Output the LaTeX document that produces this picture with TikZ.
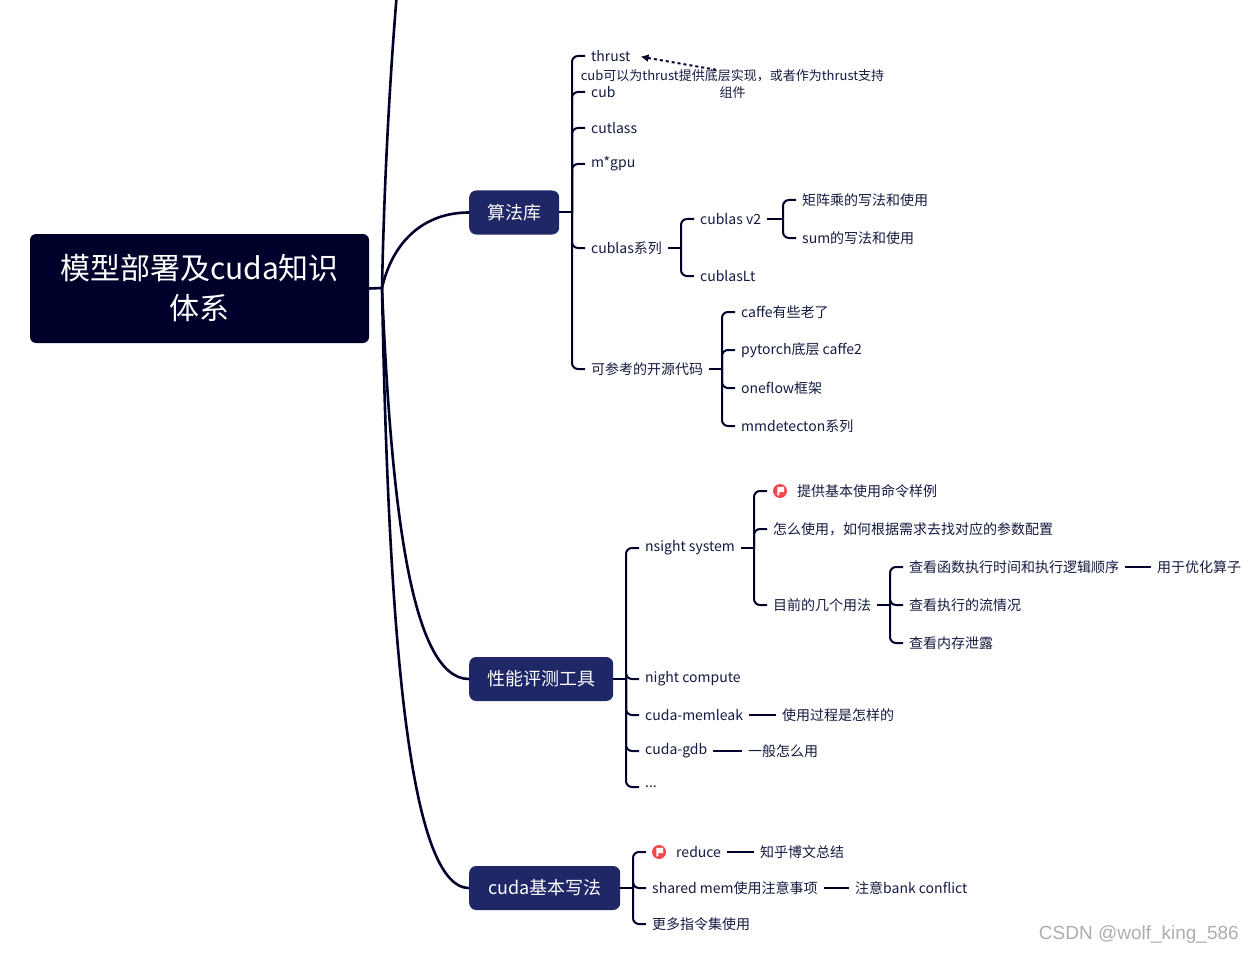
\documentclass[tikz,border=0pt]{standalone}
\usepackage{fontspec}
\setmainfont{Noto Sans CJK SC}
\newfontfamily\wmfont{Liberation Sans}
\usetikzlibrary{arrows.meta}
\definecolor{ink}{HTML}{00012A}
\definecolor{branchfill}{HTML}{1F2766}
\definecolor{flagred}{HTML}{F4484F}
\definecolor{leaftext}{HTML}{141A40}
\tikzset{
  rootbox/.style={draw=none,fill=ink,rounded corners=6pt,text=white,align=center,font=\fontsize{30}{40}\selectfont,minimum width=339pt,minimum height=109pt,text width=300pt,inner sep=0pt},
  branchbox/.style={fill=branchfill,rounded corners=7pt,text=white,anchor=west,font=\fontsize{18}{22}\selectfont,minimum height=44pt,inner sep=0pt},
  leaf/.style={anchor=west,inner xsep=6pt,inner ysep=0pt,text=leaftext,font=\fontsize{14}{17}\selectfont},
  mainline/.style={draw=ink,line width=2.6pt},
  conn/.style={draw=ink,line width=2pt,rounded corners=6pt},
  flagdisc/.style={circle,fill=flagred,minimum size=14pt,inner sep=0pt},
}
\newcommand{\kid}[3]{\draw[conn] (#1.east -| #2) -- (#3.west -| #2) -- (#3.west);}
\newcommand{\stub}[2]{\draw[conn] (#1.east) -- (#1.east -| #2);}
\newcommand{\flagmark}[1]{\fill[white] ([shift={(-2.6,4.4)}]#1.center) -- ++(0,-8.6) -- ++(6.6,0) -- ++(0,5.4) -- ++(-4.6,0) -- ++(0,3.2) -- cycle;}
\begin{document}
\begin{tikzpicture}[x=1pt,y=-1pt]
\useasboundingbox (0,0) rectangle (1254,955);
\node[rootbox] (root) at (199.5,288.5) {模型部署及cuda知识\\体系};
\node[branchbox,minimum width=90pt] (b1) at (469,212.5) {算法库};
\node[branchbox,minimum width=144pt] (b2) at (469,679) {性能评测工具};
\node[branchbox,minimum width=151pt] (b3) at (469,888) {cuda基本写法};
\coordinate (hub) at (382,288);
\coordinate (offtop) at (396.5,-2);
\draw[mainline] (root.east) -- (hub);
\draw[mainline] (hub) .. controls (384,190) and (389,90) .. (offtop);
\draw[mainline] (hub) .. controls (393,240) and (425,212.5) .. (b1.west);
\draw[mainline] (hub) .. controls (391,500) and (410,679) .. (b2.west);
\draw[mainline] (hub) .. controls (388,600) and (405,888) .. (b3.west);
% trunks
\coordinate (t1) at (572,0);
\coordinate (t2) at (681,0);
\coordinate (t3) at (783,0);
\coordinate (t4) at (722,0);
\coordinate (t5) at (626,0);
\coordinate (t6) at (754,0);
\coordinate (t7) at (890,0);
\coordinate (t8) at (633,0);
% algorithm library
\node[leaf] (thrust) at (585,56) {thrust};
\node[leaf] (cub) at (585,92) {cub};
\node[leaf] (cutlass) at (585,128) {cutlass};
\node[leaf] (mgpu) at (585,164) {m*gpu};
\node[leaf] (cublasx) at (585,248) {cublas系列};
\node[leaf] (oss) at (585,369) {可参考的开源代码};
\node[leaf] (cv2) at (694,219) {cublas v2};
\node[leaf] (clt) at (694,276) {cublasLt};
\node[leaf] (mat) at (796,200) {矩阵乘的写法和使用};
\node[leaf] (sum) at (796,238) {sum的写法和使用};
\node[leaf] (caffe) at (735,312) {caffe有些老了};
\node[leaf] (pyt) at (735,350) {pytorch底层 caffe2};
\node[leaf] (oflow) at (735,388) {oneflow框架};
\node[leaf] (mmd) at (735,426) {mmdetecton系列};
\node[align=center,inner sep=0pt,text=leaftext,font=\fontsize{13}{17}\selectfont] (note) at (732.5,84.5) {cub可以为thrust提供底层实现，或者作为thrust支持\\组件};
\stub{b1}{t1}
\foreach \c in {thrust,cub,cutlass,mgpu,cublasx,oss}{\kid{b1}{t1}{\c}}
\stub{cublasx}{t2}
\foreach \c in {cv2,clt}{\kid{cublasx}{t2}{\c}}
\stub{cv2}{t3}
\foreach \c in {mat,sum}{\kid{cv2}{t3}{\c}}
\stub{oss}{t4}
\foreach \c in {caffe,pyt,oflow,mmd}{\kid{oss}{t4}{\c}}
\draw[draw=ink,line width=2pt,dashed,-{Latex[length=8pt,width=8pt]},shorten >=4pt] ([shift={(-16.5,0)}]note.north) -- (thrust.east);
% performance tools
\node[leaf] (nsight) at (639,548) {nsight system};
\node[leaf] (night) at (639,679) {night compute};
\node[leaf] (memleak) at (639,715) {cuda-memleak};
\node[leaf] (gdb) at (639,751) {cuda-gdb};
\node[leaf] (dots) at (639,787) {...};
\node[leaf] (usage) at (776,715) {使用过程是怎样的};
\node[leaf] (howuse) at (742,751) {一般怎么用};
\node[leaf] (basic) at (767,491) {\hspace{24pt}提供基本使用命令样例};
\node[flagdisc] (flag1) at (780,491) {};
\flagmark{flag1}
\node[leaf] (how) at (767,529) {怎么使用，如何根据需求去找对应的参数配置};
\node[leaf] (cur) at (767,605) {目前的几个用法};
\node[leaf] (func) at (903,567) {查看函数执行时间和执行逻辑顺序};
\node[leaf] (flow) at (903,605) {查看执行的流情况};
\node[leaf] (leak) at (903,643) {查看内存泄露};
\node[leaf] (opt) at (1151,567) {用于优化算子};
\stub{b2}{t5}
\foreach \c in {nsight,night,memleak,gdb,dots}{\kid{b2}{t5}{\c}}
\draw[conn] (memleak.east) -- (usage.west);
\draw[conn] (gdb.east) -- (howuse.west);
\stub{nsight}{t6}
\foreach \c in {basic,how,cur}{\kid{nsight}{t6}{\c}}
\stub{cur}{t7}
\foreach \c in {func,flow,leak}{\kid{cur}{t7}{\c}}
\draw[conn] (func.east) -- (opt.west);
% cuda basics
\node[leaf] (reduce) at (646,852) {\hspace{24pt}reduce};
\node[flagdisc] (flag2) at (659,852) {};
\flagmark{flag2}
\node[leaf] (shared) at (646,888) {shared mem使用注意事项};
\node[leaf] (more) at (646,924) {更多指令集使用};
\node[leaf] (zhihu) at (754,852) {知乎博文总结};
\node[leaf] (bank) at (849,888) {注意bank conflict};
\stub{b3}{t8}
\foreach \c in {reduce,shared,more}{\kid{b3}{t8}{\c}}
\draw[conn] (reduce.east) -- (zhihu.west);
\draw[conn] (shared.east) -- (bank.west);
% watermark
\node[anchor=east,inner sep=0pt,text=black!32,font=\wmfont\fontsize{19}{22}\selectfont] (wm) at (1239,935) {CSDN @wolf\_king\_586};
\end{tikzpicture}
\end{document}
